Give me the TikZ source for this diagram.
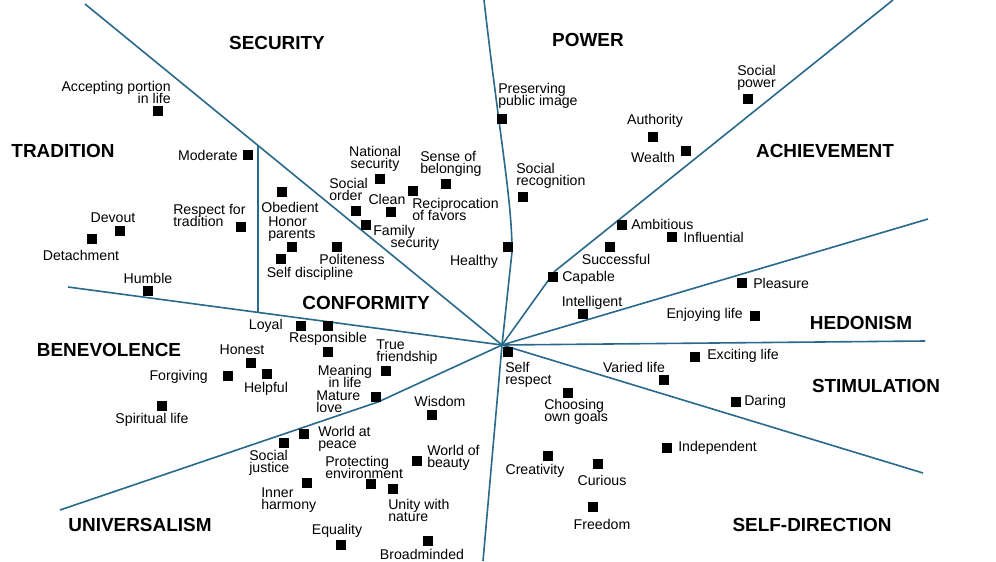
\documentclass[tikz,border=0pt]{standalone}
\usepackage{fontspec}
\setmainfont{Liberation Sans}
\definecolor{linecol}{RGB}{40,105,140}
\newcommand\lblfont{\fontsize{10.6}{9}\selectfont\lineskiplimit=-20pt\lineskip=0pt}
\newcommand\hdfont{\fontsize{14.2}{16}\selectfont\bfseries}
\begin{document}
\begin{tikzpicture}[x=0.75pt,y=-0.75pt,
  sq/.style={fill=black,draw=none,minimum size=7.5pt,inner sep=0pt},
  lbl/.style={font=\lblfont,inner sep=0pt},
  lblL/.style={lbl,align=left,anchor=west},
  lblR/.style={lbl,align=right,anchor=east},
  lblC/.style={lbl,align=center},
  hd/.style={font=\hdfont,inner sep=0pt},
  divider/.style={draw=linecol,line width=1.2pt}]
\useasboundingbox (0,0) rectangle (996,561);
\fill[white] (0,0) rectangle (996,561);
% ---- sector dividers
\coordinate (c) at (502,345);
\coordinate (tl) at (85,4);
\coordinate (vTop) at (258,145);
\coordinate (vBot) at (258,312);
\coordinate (l) at (68,287);
\coordinate (ll) at (60,510);
\coordinate (llk) at (378,402);
\coordinate (bot) at (483,561);
\coordinate (top) at (484,0);
\coordinate (topk) at (512,252);
\coordinate (tr) at (893,0);
\coordinate (trk) at (555,271);
\coordinate (ru) at (928,219);
\coordinate (r) at (925,341);
\coordinate (rl) at (923,473);
\draw[divider] (tl) -- (c);
\draw[divider] (vTop) -- (vBot);
\draw[divider] (l) -- (c);
\draw[divider] (ll) -- (llk) -- (c);
\draw[divider] (c) -- (bot);
\draw[divider] (top) .. controls (500,140) and (512,200) .. (topk) -- (c);
\draw[divider] (tr) -- (trk) -- (c);
\draw[divider] (c) -- (ru);
\draw[divider] (c) -- (r);
\draw[divider] (c) -- (rl);
% ---- headings
\node[hd] (hSec) at (277,43) {SECURITY};
\node[hd] (hPow) at (588,40) {POWER};
\node[hd] (hTra) at (63,151) {TRADITION};
\node[hd] (hAch) at (825,151) {ACHIEVEMENT};
\node[hd] (hCon) at (366,303) {CONFORMITY};
\node[hd] (hBen) at (109,350) {BENEVOLENCE};
\node[hd] (hHed) at (861,323) {HEDONISM};
\node[hd] (hSti) at (876,386) {STIMULATION};
\node[hd] (hUni) at (140,525) {UNIVERSALISM};
\node[hd] (hSel) at (812,525) {SELF-DIRECTION};
% ---- boxes
\node[sq] (bAcc) at (158,111) {};
\node[sq] (bMod) at (248,155) {};
\node[sq] (bObe) at (282,192) {};
\node[sq] (bRes) at (241,227) {};
\node[sq] (bDev) at (120,231) {};
\node[sq] (bDet) at (92,239) {};
\node[sq] (bHum) at (148,291) {};
\node[sq] (bHon) at (292,247) {};
\node[sq] (bSdi) at (281,259) {};
\node[sq] (bPol) at (337,247) {};
\node[sq] (bNat) at (380,179) {};
\node[sq] (bSoc) at (356,211) {};
\node[sq] (bCle) at (391,212) {};
\node[sq] (bSen) at (446,184) {};
\node[sq] (bRec) at (413,191) {};
\node[sq] (bFam) at (366,225) {};
\node[sq] (bHea) at (508,247) {};
\node[sq] (bPre) at (502,119) {};
\node[sq] (bSre) at (523,197) {};
\node[sq] (bAut) at (653,137) {};
\node[sq] (bWea) at (686,151) {};
\node[sq] (bSpo) at (748,99) {};
\node[sq] (bAmb) at (622,225) {};
\node[sq] (bInf) at (672,237) {};
\node[sq] (bSuc) at (610,247) {};
\node[sq] (bCap) at (553,277) {};
\node[sq] (bPle) at (742,283) {};
\node[sq] (bInt) at (583,314) {};
\node[sq] (bEnj) at (755,316) {};
\node[sq] (bExc) at (695,357) {};
\node[sq] (bVar) at (664,380) {};
\node[sq] (bDar) at (736,402) {};
\node[sq] (bSrs) at (508,352) {};
\node[sq] (bCho) at (568,393) {};
\node[sq] (bInd) at (667,448) {};
\node[sq] (bCrt) at (548,456) {};
\node[sq] (bCur) at (598,464) {};
\node[sq] (bFre) at (593,507) {};
\node[sq] (bLoy) at (301,326) {};
\node[sq] (bRsp) at (328,326) {};
\node[sq] (bHnt) at (251,363) {};
\node[sq] (bFor) at (228,376) {};
\node[sq] (bHel) at (267,374) {};
\node[sq] (bSpi) at (162,406) {};
\node[sq] (bTru) at (386,371) {};
\node[sq] (bMea) at (328,352) {};
\node[sq] (bMat) at (376,397) {};
\node[sq] (bWis) at (432,415) {};
\node[sq] (bWap) at (304,434) {};
\node[sq] (bSju) at (284,443) {};
\node[sq] (bInn) at (307,483) {};
\node[sq] (bPro) at (371,484) {};
\node[sq] (bUni) at (393,489) {};
\node[sq] (bWob) at (417,461) {};
\node[sq] (bEqu) at (341,545) {};
\node[sq] (bBro) at (428,541) {};
% ---- labels
\node[lblR] (tAcc) at (171,92) {Accepting portion\\in life};
\node[lblR] (tMod) at (238,155) {Moderate};
\node[lblC] (tObe) at (290,207) {Obedient};
\node[lblL] (tRes) at (173,215.5) {Respect for\\tradition};
\node[lblC] (tDev) at (113,218) {Devout};
\node[lblC] (tDet) at (81,255) {Detachment};
\node[lblC] (tHum) at (148,278) {Humble};
\node[lblL] (tHon) at (268,229.5) {Honor\\parents};
\node[lblC] (tSdi) at (310,274) {Self discipline};
\node[lblC] (tPol) at (352,259) {Politeness};
\node[lblC] (tNat) at (375,159) {National\\security};
\node[lblL] (tSoc) at (329,189.5) {Social\\order};
\node[lblC] (tCle) at (387,199) {Clean};
\node[lblL] (tSen) at (420,163.5) {Sense of\\belonging};
\node[lblL] (tRec) at (412,209.5) {Reciprocation\\of favors};
\node[lblL] (tFam) at (373,238) {Family\\\hspace*{13pt}security};
\node[lblC] (tHea) at (474,262) {Healthy};
\node[lblL] (tPre) at (498,95.5) {Preserving\\public image};
\node[lblL] (tSre) at (516,175.5) {Social\\recognition};
\node[lblC] (tAut) at (655,121) {Authority};
\node[lblC] (tWea) at (653,157) {Wealth};
\node[lblL] (tSpo) at (737,78) {Social\\power};
\node[lblL] (tAmb) at (631,224) {Ambitious};
\node[lblL] (tInf) at (683,237) {Influential};
\node[lblC] (tSuc) at (616,259) {Successful};
\node[lblL] (tCap) at (562,278) {Capable};
\node[lblL] (tPle) at (753,283) {Pleasure};
\node[lblC] (tInt) at (592,303) {Intelligent};
\node[lblR] (tEnj) at (743,315) {Enjoying life};
\node[lblL] (tExc) at (707,356) {Exciting life};
\node[lblC] (tVar) at (634,367) {Varied life};
\node[lblL] (tDar) at (744,402) {Daring};
\node[lblL] (tSrs) at (505,374.5) {Self\\respect};
\node[lblL] (tCho) at (544,412) {Choosing\\own goals};
\node[lblL] (tInd) at (678,448) {Independent};
\node[lblC] (tCrt) at (535,471) {Creativity};
\node[lblC] (tCur) at (602,480) {Curious};
\node[lblC] (tFre) at (602,524) {Freedom};
\node[lblR] (tLoy) at (283,326) {Loyal};
\node[lblC] (tRsp) at (328,339) {Responsible};
\node[lblC] (tHnt) at (242,350) {Honest};
\node[lblR] (tFor) at (208,377) {Forgiving};
\node[lblC] (tHel) at (266,389) {Helpful};
\node[lblC] (tSpi) at (152,420) {Spiritual life};
\node[lblL] (tTru) at (376,352.5) {True\\friendship};
\node[lblC] (tMea) at (345,376) {Meaning\\in life};
\node[lblL] (tMat) at (316,402) {Mature\\love};
\node[lblC] (tWis) at (440,401) {Wisdom};
\node[lblL] (tWap) at (318,438.5) {World at\\peace};
\node[lblL] (tSju) at (249,463) {Social\\justice};
\node[lblL] (tPro) at (325,467) {Protecting\\environment};
\node[lblL] (tInn) at (261,500.5) {Inner\\harmony};
\node[lblL] (tWob) at (427,458) {World of\\beauty};
\node[lblL] (tUni) at (388,510.5) {Unity with\\nature};
\node[lblC] (tEqu) at (337,531) {Equality};
\node[lblC] (tBro) at (422,554) {Broadminded};
\end{tikzpicture}
\end{document}
